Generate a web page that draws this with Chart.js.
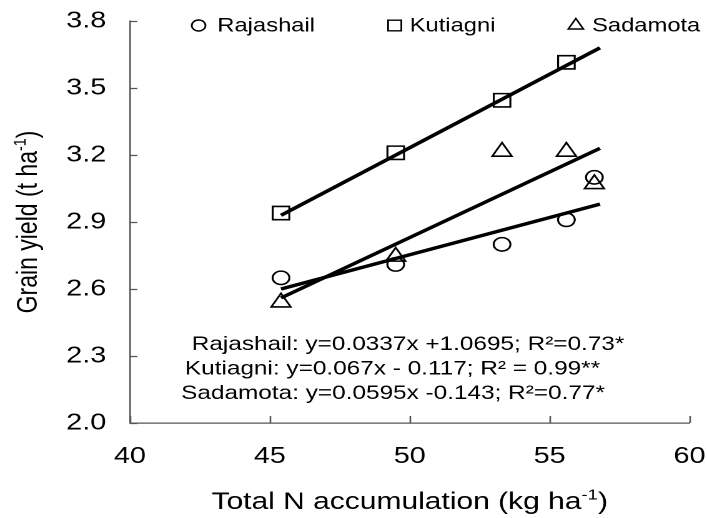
<!DOCTYPE html>
<html>
<head>
<meta charset="utf-8">
<script src="https://cdn.jsdelivr.net/npm/chart.js@4.4.1/dist/chart.umd.min.js"></script>
<style>
  html, body { margin: 0; padding: 0; background: #fff; }
</style>
</head>
<body>
<canvas id="chart" width="566" height="518" style="display:block;width:707px;height:518px"></canvas>
<script>
// values
let nAccum = [45.4, 49.5, 53.3, 55.6, 56.6];
let rajashail = [2.65, 2.71, 2.80, 2.91, 3.10];
let kutiagni = [2.94, 3.21, 3.445, 3.615];
let sadamota = [2.54, 2.745, 3.215, 3.215, 3.07];

// ends of the fitted lines, as drawn
let fitX = [45.4, 56.8];
let rajashailFit = [2.60, 2.98];
let kutiagniFit = [2.93, 3.68];
let sadamotaFit = [2.56, 3.23];

let xTicks = [40, 45, 50, 55, 60];
let yTicks = [2.0, 2.3, 2.6, 2.9, 3.2, 3.5, 3.8];

let seriesNames = ['Rajashail', 'Kutiagni', 'Sadamota'];
let equations = [
    'Rajashail: y=0.0337x +1.0695; R²=0.73*',
    'Kutiagni: y=0.067x - 0.117; R² = 0.99**',
    'Sadamota: y=0.0595x -0.143; R²=0.77*'
];

const FONT = "'Liberation Sans', Arial, sans-serif";
const AXIS = '#555555';

let pts = (xs, ys) => ys.map((y, i) => ({ x: xs[i], y: y }));

let marker = (label, data, style, r) => ({
    label: label,
    data: data,
    showLine: false,
    pointStyle: style,
    pointRadius: r,
    pointHoverRadius: r,
    pointBorderWidth: 1.6,
    pointBorderColor: '#000',
    pointBackgroundColor: 'rgba(0,0,0,0)'
});

let fit = (ys) => ({
    label: 'fit',
    data: pts(fitX, ys),
    showLine: true,
    borderColor: '#000',
    borderWidth: 3.4,
    pointRadius: 0,
    fill: false
});

// text with a raised part, parts = [[text, isSup], ...]
function drawRich(ctx, parts, x, y, size, align) {
    let supSize = size * 0.62;
    let w = 0;
    parts.forEach(p => {
        ctx.font = (p[1] ? supSize : size) + 'px ' + FONT;
        w += ctx.measureText(p[0]).width;
    });
    let cx = align === 'center' ? x - w / 2 : x;
    ctx.textAlign = 'left';
    ctx.textBaseline = 'alphabetic';
    parts.forEach(p => {
        ctx.font = (p[1] ? supSize : size) + 'px ' + FONT;
        ctx.fillText(p[0], cx, p[1] ? y - size * 0.4 : y);
        cx += ctx.measureText(p[0]).width;
    });
}

let decor = {
    id: 'decor',
    afterDraw(chart) {
        const ctx = chart.ctx;
        const x = chart.scales.x, y = chart.scales.y;
        const area = chart.chartArea;
        ctx.save();

        // ticks pointing inward
        ctx.strokeStyle = AXIS;
        ctx.lineWidth = 1.3;
        ctx.beginPath();
        yTicks.forEach(v => {
            let py = Math.round(y.getPixelForValue(v)) + 0.5;
            ctx.moveTo(area.left, py);
            ctx.lineTo(area.left + 6, py);
        });
        xTicks.forEach(v => {
            let px = Math.round(x.getPixelForValue(v)) + 0.5;
            ctx.moveTo(px, area.bottom);
            ctx.lineTo(px, area.bottom - 7);
        });
        ctx.stroke();

        // legend
        const legendMarks = [[159, 'circle', 5.5], [316, 'rect', 7.5], [461, 'triangle', 7]];
        const legendText = [174, 328, 474];
        seriesNames.forEach((name, i) => {
            ctx.strokeStyle = '#000';
            ctx.fillStyle = 'rgba(0,0,0,0)';
            ctx.lineWidth = 1.4;
            Chart.helpers.drawPoint(ctx, {
                pointStyle: legendMarks[i][1],
                radius: legendMarks[i][2],
                rotation: 0,
                borderWidth: 1.4
            }, legendMarks[i][0], 25.5);
            ctx.fillStyle = '#000';
            ctx.font = '19px ' + FONT;
            ctx.textAlign = 'left';
            ctx.textBaseline = 'alphabetic';
            ctx.fillText(name, legendText[i], 31.5);
        });

        // equations
        const eqX = [153.5, 148, 145];
        const eqY = [350, 374.5, 399];
        ctx.fillStyle = '#000';
        ctx.font = '19.5px ' + FONT;
        equations.forEach((t, i) => {
            ctx.textAlign = 'left';
            ctx.textBaseline = 'alphabetic';
            ctx.fillText(t, eqX[i], eqY[i]);
        });

        // axis titles
        drawRich(ctx, [['Total N accumulation (kg ha', false], ['-1', true], [')', false]],
            (area.left + area.right) / 2, 509, 24, 'center');
        ctx.translate(29.5, (area.top + area.bottom) / 2);
        ctx.rotate(-Math.PI / 2);
        drawRich(ctx, [['Grain yield (t ha', false], ['-1', true], [')', false]], 0, 0, 23, 'center');
        ctx.restore();
    }
};

let ChartYield = function () {
    let _ChartYield = function () {
        let ctx = document.getElementById('chart').getContext('2d');
        new Chart(ctx, {
            type: 'scatter',
            data: {
                datasets: [
                    marker(seriesNames[0], pts(nAccum, rajashail), 'circle', 6.7),
                    marker(seriesNames[1], pts(nAccum, kutiagni), 'rect', 9.4),
                    marker(seriesNames[2], pts(nAccum, sadamota), 'triangle', 9),
                    fit(rajashailFit),
                    fit(kutiagniFit),
                    fit(sadamotaFit)
                ]
            },
            options: {
                responsive: false,
                devicePixelRatio: 2,
                animation: false,
                events: [],
                layout: { autoPadding: false, padding: { top: 21, right: 14, left: 0, bottom: 0 } },
                plugins: { legend: { display: false }, tooltip: { enabled: false } },
                scales: {
                    x: {
                        type: 'linear',
                        min: 40, max: 60,
                        afterBuildTicks: s => { s.ticks = xTicks.map(v => ({ value: v })); },
                        afterFit: s => {
                            s.height = 95;
                            s.paddingLeft = 0; s.paddingRight = 0;
                            s.paddingTop = 0; s.paddingBottom = 0;
                        },
                        grid: { display: false, drawTicks: false },
                        border: { display: true, color: AXIS, width: 1.3 },
                        ticks: {
                            padding: 20,
                            color: '#000',
                            font: { family: FONT, size: 23 },
                            callback: v => String(v)
                        }
                    },
                    y: {
                        type: 'linear',
                        min: 2.0, max: 3.8,
                        afterBuildTicks: s => { s.ticks = yTicks.map(v => ({ value: v })); },
                        afterFit: s => {
                            s.width = 104;
                            s.paddingLeft = 0; s.paddingRight = 0;
                            s.paddingTop = 0; s.paddingBottom = 0;
                        },
                        grid: { display: false, drawTicks: false },
                        border: { display: true, color: AXIS, width: 1.3 },
                        ticks: {
                            padding: 19,
                            color: '#000',
                            font: { family: FONT, size: 23 },
                            callback: v => v.toFixed(1)
                        }
                    }
                }
            },
            plugins: [decor]
        });
    };
    return {
        init: () => {
            _ChartYield();
        }
    }
}();
document.addEventListener('DOMContentLoaded', function () {
    ChartYield.init();
});
</script>
</body>
</html>
